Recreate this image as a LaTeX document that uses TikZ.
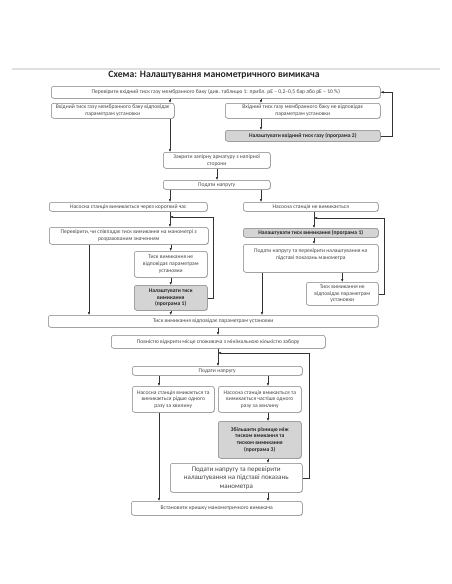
\documentclass[tikz,border=0pt]{standalone}
\usepackage{fontspec}
\setmainfont{Carlito}
\usetikzlibrary{arrows.meta,shadows,calc}
\newcommand{\mybox}[7]{\node[#1, anchor=north west, minimum width={(#5-#3)*1pt}, minimum height={(#6-#4)*1pt}] (#2) at (#3,#4) {#7};}
\begin{document}
\begin{tikzpicture}[x=1pt,y=-1pt,
  box/.style={draw=black!50, line width=0.5pt, rounded corners=2.5pt, fill=white, inner sep=1pt, align=center,
    font=\fontsize{5.6}{6.6}\selectfont, text=black!72,
    drop shadow={shadow xshift=0.7pt, shadow yshift=-0.7pt, fill=black!30, opacity=0.5}},
  gbox/.style={box, fill=black!17, font=\fontsize{5.6}{6.6}\selectfont\bfseries, text=black!85},
  arr/.style={draw=black!80, line width=0.5pt, -{Latex[length=3pt,width=2.6pt]}}]
\useasboundingbox (0,0) rectangle (452,584);
\fill[white] (0,0) rectangle (452,584);
\draw[black!12, line width=2.5pt] (12,69) -- (440,69);
\node[font=\fontsize{9.7}{11}\selectfont\bfseries, text=black!85] (title) at (214,75) {Схема: Налаштування манометричного вимикача};
% x columns
\coordinate (c89) at (89,0);
\coordinate (c159) at (159,0);
\coordinate (c170) at (170,0);
\coordinate (c217) at (217,0);
\coordinate (c218) at (218,0);
\coordinate (c261) at (261,0);
\coordinate (c262) at (262,0);
\coordinate (c268) at (268,0);
\coordinate (c314) at (314,0);
% boxes
\mybox{box}{A}{51}{86}{380}{98}{Перевірити вхідний тиск газу мембранного баку (див. таблицю 1: прибл. pE – 0,2–0,5 бар або pE – 10 \%)}
\mybox{box}{B}{51}{103}{174}{118}{Вхідний тиск газу мембранного баку відповідає\\параметрам установки}
\mybox{box}{C}{225}{103}{380}{118}{Вхідний тиск газу мембранного баку не відповідає\\параметрам установки}
\mybox{gbox}{D}{225}{130}{380}{141}{Налаштувати вхідний тиск газу (програма 2)}
\mybox{box}{E}{163}{152}{270}{168}{Закрити запірну арматуру з напірної\\сторони}
\mybox{box}{F}{163}{180}{270}{189}{Подати напругу}
\mybox{box}{G}{49}{202}{207}{211}{Насосна станція вимикається через короткий час}
\mybox{box}{H}{243}{202}{378}{211}{Насосна станція не вимикається}
\mybox{box}{I}{49}{227}{208}{244}{Перевірити, чи співпадає тиск вимикання на манометрі з\\розрахованим значенням}
\mybox{gbox}{J}{243}{228}{378}{237}{Налаштувати тиск вимикання (програма 1)}
\mybox{box}{K}{243}{244}{378}{272}{Подати напругу та перевірити налаштування на\\підставі показань манометра\\[2pt]\mbox{}}
\mybox{box}{L}{134}{251}{207}{277}{Тиск вимикання не\\відповідає параметрам\\установки}
\mybox{gbox}{M}{134}{285}{207}{310}{Налаштувати тиск\\вимикання\\(програма 1)}
\mybox{box}{P}{306}{282}{378}{305}{Тиск вимикання не\\відповідає параметрам\\установки}
\mybox{box}{N}{48}{315}{378}{327}{Тиск вимикання відповідає параметрам установки}
\mybox{box}{Q}{111}{335}{325}{348}{Повністю відкрити місце споживача з мінімальною кількістю забору}
\mybox{box}{R}{132}{366}{302}{375}{Подати напругу}
\mybox{box}{S}{132}{386}{214}{412}{Насосна станція вмикається та\\вимикається рідше одного\\разу за хвилину}
\mybox{box}{T}{218}{386}{301}{412}{Насосна станція вмикається та\\вимикається частіше одного\\разу за хвилину}
\mybox{gbox}{U}{218}{421}{301}{458}{Збільшити різницю між\\тиском вмикання та\\тиском вимикання\\(програма 3)}
\mybox{box,font=\fontsize{7}{8.4}\selectfont}{V}{170}{463}{302}{492}{Подати напругу та перевірити\\налаштування на підставі показань\\манометра}
\mybox{box}{W}{131}{501}{302}{515}{Встановити кришку манометричного вимикача}
% junction points
\coordinate (jI) at (170,217);
\coordinate (jJ) at (314,218);
\coordinate (jR) at (218,353);
% connectors
\draw[arr] (A.south -| c170) -- (B.north -| c170);
\draw[arr] (A.south -| c261) -- (C.north -| c261);
\draw[arr] (C.south -| c261) -- (D.north -| c261);
\draw[arr] (D.east) -- ++(12,0) |- (A.east);
\draw[arr] (B.south -| c170) -- (E.north -| c170);
\draw[arr] (E.south -| c217) -- (F.north -| c217);
\draw[arr] (F.south -| c170) -- (G.north -| c170);
\draw[arr] (F.south -| c261) -- (H.north -| c261);
\draw[arr] (G.south -| c170) -- (I.north -| c170);
\draw[arr] (M.east) -- ++(6,0) |- (jI);
\draw[arr] (I.south -| c89) -- (N.north -| c89);
\draw[arr] (I.south -| L.north) -- (L.north);
\draw[arr] (L.south) -- (M.north);
\draw[arr] (M.south) -- (N.north -| M.south);
\draw[arr] (H.south -| c314) -- (J.north -| c314);
\draw[arr] (P.east) -- ++(6,0) |- (jJ);
\draw[arr] (J.south -| c314) -- (K.north -| c314);
\draw[arr] (K.south -| P.north) -- (P.north);
\draw[arr] (K.south -| c262) -- (N.north -| c262);
\draw[arr] (N.south -| c218) -- (Q.north -| c218);
\draw[arr] (Q.south -| c218) -- (R.north -| c218);
\draw[arr] (V.east) -- ++(7,0) |- (jR);
\draw[arr] (R.south -| c159) -- (S.north -| c159);
\draw[arr] (R.south -| c268) -- (T.north -| c268);
\draw[arr] (T.south -| c268) -- (U.north -| c268);
\draw[arr] (U.south -| c268) -- (V.north -| c268);
\draw[arr] (V.south -| c268) -- (W.north -| c268);
\draw[arr] (S.south -| c159) -- (W.north -| c159);
\end{tikzpicture}
\end{document}
